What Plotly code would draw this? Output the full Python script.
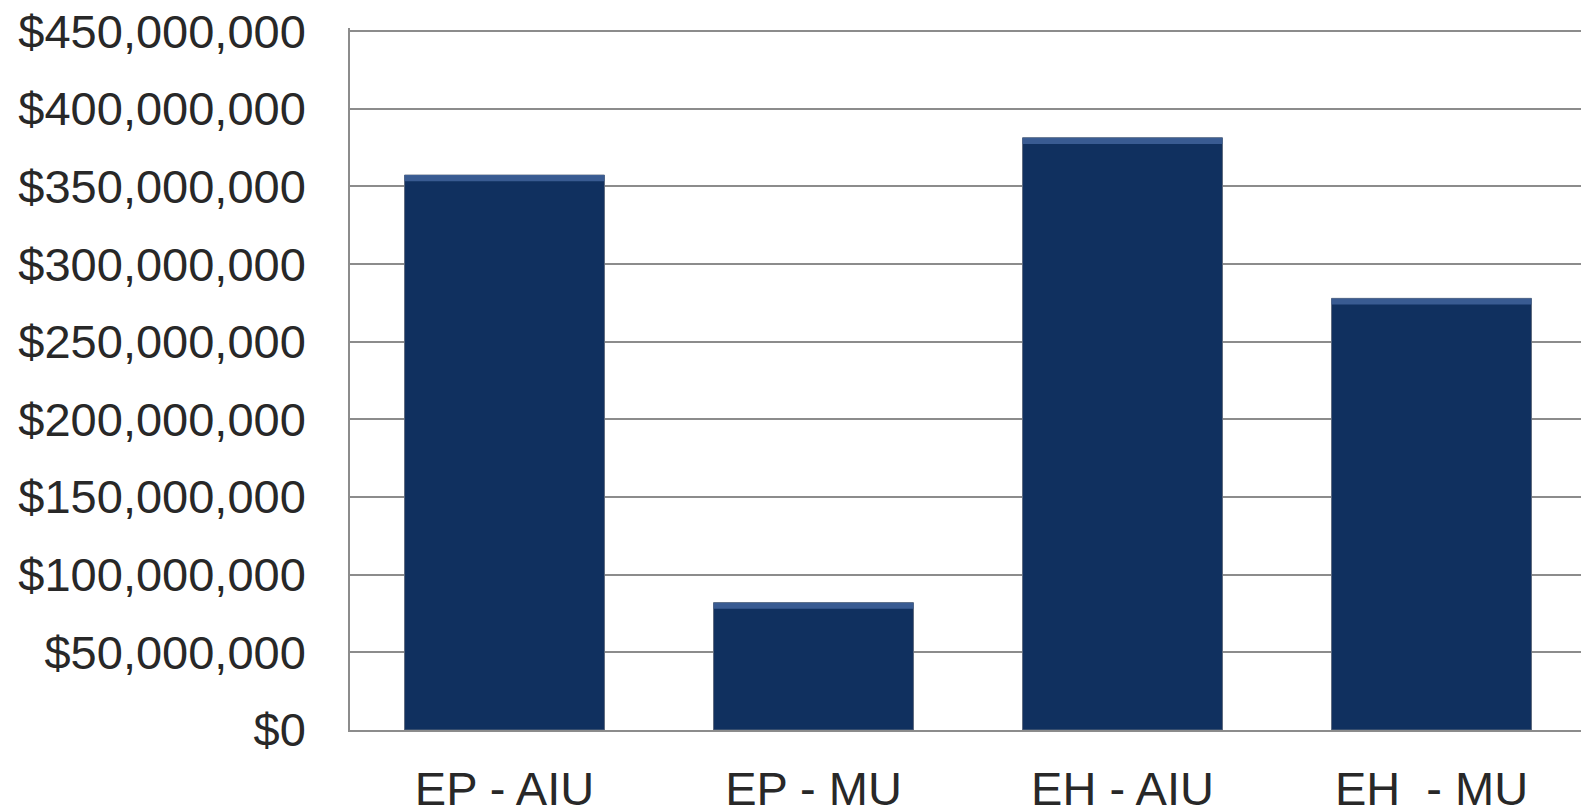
import plotly.graph_objects as go

categories = ["EP - AIU", "EP - MU", "EH - AIU", "EH\u00a0 - MU"]
values = [357_300_000, 82_000_000, 381_300_000, 277_900_000]
tick_values = [0, 50e6, 100e6, 150e6, 200e6, 250e6, 300e6, 350e6, 400e6, 450e6]
tick_labels = ["$0", "$50,000,000", "$100,000,000", "$150,000,000", "$200,000,000",
               "$250,000,000", "$300,000,000", "$350,000,000", "$400,000,000", "$450,000,000"]

bevel = 4_000_000  # thickness of the lighter top edge, in data units

fig = go.Figure()
fig.add_trace(go.Bar(
    x=categories, y=values,
    marker=dict(color="#10305f", line=dict(color="#5d6a7e", width=1)),
    hoverinfo="x+y",
))
fig.add_trace(go.Bar(
    x=categories, y=[bevel] * len(values), base=[v - bevel for v in values],
    marker=dict(color="rgba(62,96,152,0.9)", line=dict(width=0)),
    hoverinfo="skip",
))

# the page body has an 8px default margin, so the figure is sized/offset to compensate
fig.update_layout(
    barmode="overlay",
    bargap=0.353,
    width=1581, height=801,
    margin=dict(l=342, r=3, t=20, b=79),
    paper_bgcolor="white", plot_bgcolor="white",
    showlegend=False,
    font=dict(family="Liberation Sans, Arial, sans-serif", size=47, color="#282828"),
)
fig.update_yaxes(
    range=[0, 452e6], tickmode="array", tickvals=tick_values, ticktext=tick_labels,
    showgrid=True, gridcolor="#8c8c8c", gridwidth=1.5,
    showline=True, linecolor="#8c8c8c", linewidth=1.5,
    zeroline=False, ticks="", ticklabelstandoff=33, automargin=False,
    ticklabeloverflow="allow",
)
fig.update_xaxes(
    showgrid=False, showline=True, linecolor="#8c8c8c", linewidth=1.5,
    ticks="", ticklabelstandoff=17, automargin=False,
    ticklabeloverflow="allow",
)

fig.write_html("out.html")
